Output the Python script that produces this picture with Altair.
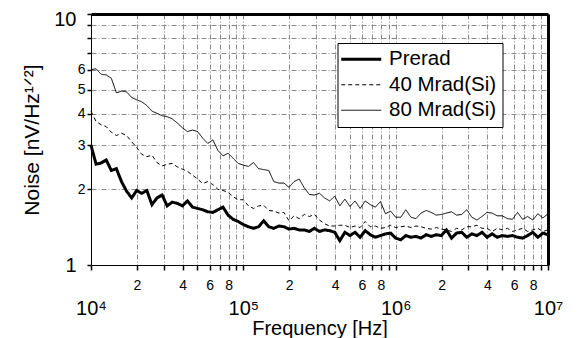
import altair as alt
import pandas as pd

FONT = "Liberation Sans"

# frequency grid (30 points per decade)
mantissa = [1.0, 1.08, 1.166, 1.259, 1.359, 1.468, 1.585, 1.711, 1.848, 1.995,
            2.154, 2.326, 2.512, 2.712, 2.929, 3.162, 3.415, 3.687, 3.981, 4.299,
            4.642, 5.012, 5.412, 5.843, 6.31, 6.813, 7.356, 7.943, 8.577, 9.261]
decades = [10000, 100000, 1000000]
freq = [m * d for d in decades for m in mantissa] + [10000000]

prerad = [3.00, 2.52, 2.55, 2.62, 2.38, 2.42, 2.15, 1.97, 1.85, 1.98,
          1.93, 1.98, 1.74, 1.85, 1.90, 1.72, 1.78, 1.76, 1.72, 1.80,
          1.70, 1.68, 1.66, 1.63, 1.62, 1.66, 1.70, 1.58, 1.52, 1.49,
          1.45, 1.42, 1.40, 1.42, 1.50, 1.42, 1.40, 1.43, 1.42, 1.39,
          1.40, 1.38, 1.38, 1.36, 1.40, 1.36, 1.38, 1.37, 1.35, 1.25,
          1.35, 1.31, 1.35, 1.29, 1.37, 1.32, 1.29, 1.31, 1.33, 1.34,
          1.28, 1.26, 1.31, 1.29, 1.30, 1.28, 1.32, 1.30, 1.32, 1.31,
          1.38, 1.28, 1.34, 1.35, 1.29, 1.33, 1.31, 1.35, 1.29, 1.33,
          1.29, 1.31, 1.30, 1.31, 1.29, 1.28, 1.31, 1.35, 1.29, 1.34,
          1.32]

mrad40 = [4.10, 3.73, 3.62, 3.56, 3.38, 3.28, 3.35, 3.28, 3.10, 2.94,
          2.76, 2.70, 2.74, 2.56, 2.48, 2.52, 2.54, 2.46, 2.41, 2.36,
          2.28, 2.20, 2.11, 2.15, 2.09, 2.00, 1.98, 1.95, 1.87, 1.82,
          1.82, 1.72, 1.68, 1.72, 1.73, 1.65, 1.64, 1.61, 1.62, 1.50,
          1.57, 1.53, 1.59, 1.56, 1.59, 1.51, 1.46, 1.43, 1.43, 1.44,
          1.44, 1.41, 1.43, 1.41, 1.49, 1.42, 1.43, 1.40, 1.41, 1.44,
          1.41, 1.42, 1.43, 1.41, 1.43, 1.42, 1.40, 1.39, 1.41, 1.39,
          1.38, 1.36, 1.40, 1.38, 1.42, 1.42, 1.44, 1.40, 1.40, 1.36,
          1.40, 1.38, 1.40, 1.36, 1.38, 1.40, 1.36, 1.38, 1.40, 1.36,
          1.38]

mrad80 = [6.00, 6.05, 5.75, 5.72, 5.55, 4.85, 4.93, 4.90, 4.65, 4.55,
          4.47, 4.32, 4.10, 4.02, 3.93, 3.90, 3.82, 3.68, 3.52, 3.40,
          3.45, 3.40, 3.20, 3.05, 3.15, 2.86, 2.72, 2.79, 2.66, 2.54,
          2.50, 2.47, 2.56, 2.42, 2.40, 2.38, 2.15, 2.12, 2.12, 2.04,
          2.15, 2.20, 2.03, 1.91, 1.90, 1.93, 1.85, 1.80, 1.88, 1.72,
          1.83, 1.71, 1.80, 1.68, 1.80, 1.74, 1.70, 1.79, 1.60, 1.64,
          1.55, 1.55, 1.66, 1.55, 1.53, 1.61, 1.65, 1.62, 1.58, 1.59,
          1.61, 1.63, 1.58, 1.59, 1.66, 1.55, 1.51, 1.56, 1.62, 1.61,
          1.57, 1.57, 1.53, 1.52, 1.62, 1.52, 1.56, 1.51, 1.60, 1.54,
          1.60]

series_names = ["Prerad", "40 Mrad(Si)", "80 Mrad(Si)"]
series_values = [prerad, mrad40, mrad80]
series_widths = [3, 1, 1]
series_dashes = [[1, 0], [4, 3], [1, 0]]

x_mant = [1, 2, 3, 4, 5, 6, 7, 8, 9]
x_ticks = [m * d for d in decades for m in x_mant] + [10000000]
y_ticks = [1, 2, 3, 4, 5, 6, 7, 8, 9, 10]

rows = []
for name, vals, lw in zip(series_names, series_values, series_widths):
    for f, v in zip(freq, vals):
        rows.append({"freq": f, "noise": v, "series": name, "lw": lw})
df = pd.DataFrame(rows)

x_scale = alt.Scale(type="log", domain=[10000, 10000000], nice=False)
y_scale = alt.Scale(type="log", domain=[1, 10], nice=False)

x_major = "datum.value == 10000 || datum.value == 100000 || datum.value == 1000000 || datum.value == 10000000"
x_label_expr = ("datum.value == 10000 ? '10\u2074' : datum.value == 100000 ? '10\u2075' : "
                "datum.value == 1000000 ? '10\u2076' : datum.value == 10000000 ? '10\u2077' : "
                "(indexof(['2','4','6','8'], slice(toString(datum.value),0,1)) >= 0 ? "
                "slice(toString(datum.value),0,1) : '')")
y_major = "datum.value == 1 || datum.value == 10"
y_label_expr = "(datum.value <= 6 || datum.value == 10) ? toString(datum.value) : ''"

grid_color = "#8a8a8a"
grid_dash = [5, 2, 1, 2]

x_axis = alt.Axis(
    values=x_ticks, labelExpr=x_label_expr,
    labelFont=FONT, labelColor="black",
    labelFontSize={"condition": {"test": x_major, "value": 20}, "value": 14},
    labelPadding={"condition": {"test": x_major, "value": 28}, "value": 8},
    labelOverlap=False, labelFlush=False,
    grid=True, gridColor=grid_color, gridDash=grid_dash, gridWidth=1,
    tickSize=5, tickWidth=1.5, tickColor="black",
    domainColor="black", domainWidth=1,
    title="Frequency [Hz]", titleFont=FONT, titleFontSize=20,
    titleFontWeight="normal", titleColor="black", titlePadding=0,
)
y_axis = alt.Axis(
    values=y_ticks, labelExpr=y_label_expr,
    labelFont=FONT, labelColor="black",
    labelFontSize={"condition": {"test": y_major, "value": 20}, "value": 14},
    labelPadding={"condition": {"test": y_major, "value": 11}, "value": 2},
    labelOffset={"condition": {"test": "datum.value == 10", "value": 5}, "value": 0},
    labelOverlap=False, labelFlush=False,
    grid=True, gridColor=grid_color, gridDash=grid_dash, gridWidth=1,
    tickSize=4, tickWidth=1.5, tickColor="black",
    domainColor="black", domainWidth=1,
    title="Noise [nV/Hz\u00b9\u141f\u00b2]", titleFont=FONT, titleFontSize=21,
    titleFontWeight="normal", titleColor="black", titlePadding=11,
)

legend = alt.Legend(
    title=None, orient="none", legendX=246.5, legendY=29,
    strokeColor="black", fillColor="white", padding=6,
    labelFont=FONT, labelFontSize=20.5, labelColor="black",
    symbolType="M-1,0H2.2", symbolSize=625, symbolStrokeColor="black",
    symbolStrokeWidth=alt.ExprRef(expr="datum.value === 'Prerad' ? 3 : 1"),
    labelOffset=25, rowPadding=4.5,
)

lines = alt.Chart(df).mark_line(color="black", strokeJoin="miter").encode(
    x=alt.X("freq:Q", scale=x_scale, axis=x_axis),
    y=alt.Y("noise:Q", scale=y_scale, axis=y_axis),
    strokeDash=alt.StrokeDash("series:N", sort=series_names,
                              scale=alt.Scale(domain=series_names, range=series_dashes),
                              legend=legend),
    strokeWidth=alt.StrokeWidth("lw:Q", scale=None, legend=None),
)

frame = alt.Chart(df).mark_line(opacity=0).encode(
    x=alt.X("freq:Q", scale=x_scale,
            axis=alt.Axis(orient="top", labels=False, ticks=False, grid=False,
                          title=None, domainColor="black", domainWidth=3)),
    y=alt.Y("noise:Q", scale=y_scale,
            axis=alt.Axis(orient="right", labels=False, ticks=False, grid=False,
                          title=None, domainColor="black", domainWidth=3)),
)

chart = alt.layer(lines, frame).resolve_axis(x="independent", y="independent").properties(
    width=457, height=251,
    padding={"left": 83, "top": 6, "right": 20, "bottom": 75},
    autosize=alt.AutoSizeParams(type="none"),
    background="white",
).configure_view(stroke=None)

chart.save("out.html", embed_options={"renderer": "svg", "actions": False})
